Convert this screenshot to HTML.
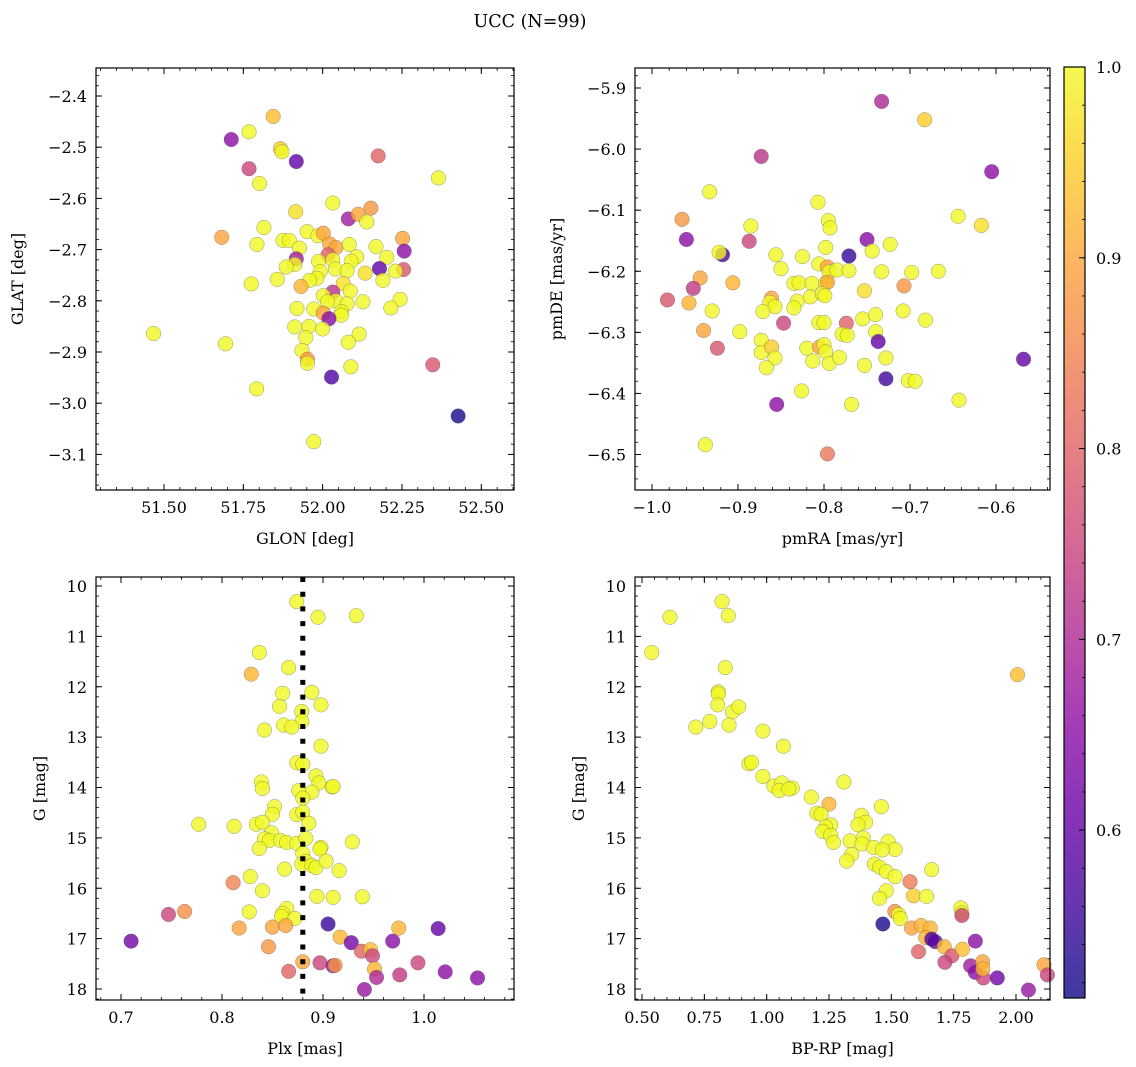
<!DOCTYPE html>
<html><head><meta charset="utf-8">
<style>
html,body{margin:0;padding:0;background:#fff;}
svg{display:block;font-family:"DejaVu Serif","Liberation Serif",serif;}
</style></head>
<body>
<svg id="fig" width="1136" height="1067" viewBox="0 0 1136 1067" xmlns="http://www.w3.org/2000/svg">
<defs>
<linearGradient id="cbgrad" x1="0" y1="1" x2="0" y2="0">
<stop offset="0" stop-color="#0d0887"/><stop offset="0.1" stop-color="#41049d"/><stop offset="0.2" stop-color="#6a00a8"/><stop offset="0.3" stop-color="#8f0da4"/><stop offset="0.4" stop-color="#b12a90"/><stop offset="0.5" stop-color="#cc4778"/><stop offset="0.6" stop-color="#e16462"/><stop offset="0.7" stop-color="#f2844b"/><stop offset="0.8" stop-color="#fca636"/><stop offset="0.9" stop-color="#fcce25"/><stop offset="1" stop-color="#f0f921"/>
</linearGradient>
</defs>
<text x="530" y="27" font-size="17.5" text-anchor="middle">UCC (N=99)</text>
</svg>
<script>
// ---- Panel 1: GLON / GLAT ----
const p1Lon=[51.844,51.712,51.768,51.867,51.872,51.917,51.768,52.175,52.365,51.801,52.032,51.915,52.081,52.112,52.152,52.139,51.682,51.815,51.793,51.875,51.895,51.927,51.951,51.985,52.002,52.022,52.042,52.084,52.168,52.252,52.257,51.917,51.912,51.885,52.017,51.987,52.032,52.107,52.090,52.202,52.179,52.255,52.229,52.134,52.190,52.040,52.077,51.992,51.982,51.959,51.857,51.775,51.932,52.065,52.087,52.032,52.002,52.042,52.015,52.077,52.127,52.244,52.215,51.919,51.972,52.002,52.059,52.059,52.020,51.912,51.957,52.000,51.947,52.115,52.081,51.935,51.952,51.952,52.089,51.467,51.694,52.347,52.028,51.792,52.427,51.972];
const p1Lat=[-2.440,-2.485,-2.470,-2.503,-2.509,-2.528,-2.542,-2.517,-2.560,-2.571,-2.609,-2.626,-2.640,-2.631,-2.619,-2.646,-2.676,-2.657,-2.690,-2.682,-2.682,-2.697,-2.665,-2.673,-2.668,-2.689,-2.696,-2.690,-2.694,-2.678,-2.703,-2.718,-2.729,-2.734,-2.710,-2.723,-2.720,-2.714,-2.723,-2.715,-2.737,-2.739,-2.742,-2.746,-2.760,-2.738,-2.741,-2.743,-2.756,-2.760,-2.758,-2.767,-2.772,-2.766,-2.781,-2.783,-2.790,-2.800,-2.802,-2.806,-2.802,-2.797,-2.814,-2.815,-2.816,-2.824,-2.821,-2.828,-2.835,-2.851,-2.850,-2.855,-2.872,-2.865,-2.881,-2.897,-2.914,-2.922,-2.929,-2.864,-2.884,-2.925,-2.949,-2.972,-3.025,-3.075];
const p1Prob=[0.93,0.65,1,0.95,1,0.6,0.75,0.8,1,1,1,0.97,0.68,0.9,0.88,1,0.9,1,1,1,1,1,1,1,0.9,0.9,0.9,1,1,0.9,0.65,0.68,1,1,0.8,1,1,1,1,1,0.6,0.78,1,0.97,1,1,1,1,1,1,1,1,0.92,0.97,1,0.72,1,1,1,1,1,1,1,1,1,0.9,1,1,0.65,1,1,1,1,1,1,1,0.88,1,1,1,1,0.78,0.58,1,0.52,1];
const p1XTicks=[51.5,51.75,52.0,52.25,52.5];
const p1XTickLabels=["51.50","51.75","52.00","52.25","52.50"];
const p1YTicks=[-2.4,-2.5,-2.6,-2.7,-2.8,-2.9,-3.0,-3.1];
const p1YTickLabels=["\u22122.4","\u22122.5","\u22122.6","\u22122.7","\u22122.8","\u22122.9","\u22123.0","\u22123.1"];

// ---- Panel 2: pmRA / pmDE ----
const p2Ra=[-0.733,-0.683,-0.873,-0.605,-0.933,-0.807,-0.965,-0.644,-0.617,-0.885,-0.795,-0.793,-0.960,-0.887,-0.750,-0.723,-0.798,-0.918,-0.922,-0.771,-0.856,-0.825,-0.744,-0.850,-0.806,-0.796,-0.794,-0.785,-0.771,-0.733,-0.698,-0.667,-0.944,-0.906,-0.952,-0.835,-0.829,-0.814,-0.798,-0.796,-0.707,-0.753,-0.982,-0.957,-0.861,-0.863,-0.857,-0.831,-0.816,-0.802,-0.799,-0.835,-0.871,-0.930,-0.708,-0.847,-0.774,-0.755,-0.740,-0.682,-0.806,-0.800,-0.940,-0.898,-0.779,-0.773,-0.740,-0.737,-0.924,-0.873,-0.873,-0.861,-0.857,-0.867,-0.820,-0.805,-0.800,-0.798,-0.813,-0.794,-0.782,-0.753,-0.728,-0.568,-0.728,-0.702,-0.694,-0.826,-0.855,-0.768,-0.643,-0.938,-0.796];
const p2De=[-5.922,-5.952,-6.012,-6.037,-6.070,-6.087,-6.115,-6.110,-6.125,-6.126,-6.117,-6.129,-6.148,-6.151,-6.148,-6.156,-6.161,-6.173,-6.169,-6.175,-6.173,-6.176,-6.167,-6.196,-6.188,-6.193,-6.201,-6.198,-6.199,-6.201,-6.202,-6.200,-6.211,-6.219,-6.228,-6.220,-6.219,-6.220,-6.219,-6.218,-6.224,-6.232,-6.247,-6.252,-6.244,-6.251,-6.258,-6.249,-6.242,-6.237,-6.240,-6.260,-6.266,-6.265,-6.265,-6.285,-6.285,-6.278,-6.271,-6.280,-6.284,-6.284,-6.297,-6.299,-6.303,-6.305,-6.299,-6.315,-6.326,-6.313,-6.333,-6.324,-6.342,-6.358,-6.326,-6.324,-6.320,-6.332,-6.347,-6.351,-6.341,-6.354,-6.342,-6.344,-6.376,-6.379,-6.380,-6.396,-6.418,-6.418,-6.411,-6.484,-6.499];
const p2Prob=[0.7,0.95,0.72,0.65,1,1,0.88,1,0.97,1,1,1,0.65,0.75,0.65,1,1,0.58,1,0.55,1,1,1,1,1,0.9,1,1,1,1,1,1,0.9,0.92,0.73,1,1,1,1,0.9,0.88,0.97,0.78,0.92,0.9,1,1,1,1,1,1,1,1,1,1,0.75,0.8,1,1,1,1,1,0.9,1,1,1,1,0.6,0.78,1,1,0.95,1,1,1,0.9,1,1,1,1,1,1,1,0.6,0.56,1,1,1,0.65,1,1,1,0.83];
const p2XTicks=[-1.0,-0.9,-0.8,-0.7,-0.6];
const p2XTickLabels=["\u22121.0","\u22120.9","\u22120.8","\u22120.7","\u22120.6"];
const p2YTicks=[-5.9,-6.0,-6.1,-6.2,-6.3,-6.4,-6.5];
const p2YTickLabels=["\u22125.9","\u22126.0","\u22126.1","\u22126.2","\u22126.3","\u22126.4","\u22126.5"];

// ---- Panel 3: Plx / G ----
const p3Plx=[0.874,0.895,0.933,0.837,0.866,0.829,0.860,0.889,0.857,0.898,0.879,0.879,0.861,0.869,0.842,0.898,0.874,0.880,0.893,0.896,0.839,0.840,0.909,0.910,0.889,0.876,0.880,0.852,0.850,0.874,0.880,0.886,0.777,0.812,0.834,0.840,0.849,0.842,0.847,0.858,0.864,0.874,0.883,0.929,0.898,0.897,0.837,0.880,0.883,0.879,0.889,0.893,0.903,0.916,0.862,0.828,0.811,0.840,0.894,0.910,0.939,0.747,0.763,0.827,0.864,0.860,0.859,0.872,0.710,0.817,0.850,0.863,0.846,0.905,0.917,0.928,0.938,0.947,0.949,0.951,0.953,0.969,0.975,0.976,1.014,0.994,1.021,1.053,0.941,0.880,0.897,0.910,0.912,0.866];
const p3G=[10.31,10.62,10.59,11.32,11.62,11.75,12.13,12.11,12.39,12.36,12.49,12.69,12.76,12.80,12.86,13.18,13.51,13.54,13.77,13.91,13.89,14.02,13.99,13.98,14.09,14.06,14.21,14.38,14.53,14.54,14.49,14.71,14.73,14.77,14.73,14.69,14.90,15.02,15.05,15.05,15.09,15.11,15.01,15.08,15.19,15.22,15.21,15.31,15.47,15.52,15.55,15.59,15.46,15.65,15.62,15.77,15.89,16.05,16.16,16.18,16.17,16.52,16.46,16.47,16.40,16.50,16.56,16.60,17.05,16.79,16.77,16.74,17.16,16.71,16.97,17.08,17.25,17.22,17.34,17.60,17.77,17.05,16.79,17.72,16.80,17.48,17.66,17.78,18.01,17.46,17.48,17.54,17.53,17.65];
const p3Prob=[1,1,1,1,1,0.92,1,1,1,1,1,1,1,1,1,1,1,1,1,1,1,1,1,1,1,1,1,1,1,1,1,1,1,1,1,1,1,1,1,1,1,1,1,1,1,1,1,1,1,1,1,1,1,1,1,1,0.85,1,1,1,1,0.75,0.87,1,1,1,1,1,0.62,0.9,0.9,0.9,0.88,0.55,0.92,0.62,0.8,0.93,0.75,0.92,0.7,0.65,0.92,0.73,0.6,0.75,0.65,0.65,0.67,0.9,0.75,0.65,0.88,0.8];
const p3PlxMean=[0.88];
const p3XTicks=[0.7,0.8,0.9,1.0];
const p3XTickLabels=["0.7","0.8","0.9","1.0"];
const gTicks=[10,11,12,13,14,15,16,17,18];
const gTickLabels=["10","11","12","13","14","15","16","17","18"];

// ---- Panel 4: BP-RP / G ----
const p4Col=[0.539,0.612,0.821,0.846,0.834,2.006,0.806,0.806,0.804,0.863,0.888,0.716,0.772,0.849,0.985,1.067,0.929,0.939,0.985,1.029,1.061,1.050,1.103,1.089,1.310,1.179,1.250,1.460,1.201,1.218,1.257,1.236,1.380,1.397,1.366,1.225,1.257,1.268,1.335,1.387,1.383,1.341,1.321,1.429,1.487,1.515,1.464,1.432,1.453,1.480,1.515,1.662,1.575,1.480,1.453,1.589,1.641,1.514,1.529,1.536,1.779,1.783,1.783,1.466,1.581,1.620,1.656,1.609,1.638,1.676,1.662,1.712,1.743,1.715,1.785,1.837,1.818,1.837,1.869,1.866,1.867,1.925,2.050,2.112,2.126];
const p4G=[11.32,10.62,10.31,10.59,11.62,11.76,12.10,12.14,12.36,12.50,12.40,12.80,12.69,12.76,12.88,13.18,13.53,13.50,13.78,13.97,13.91,14.06,14.01,14.03,13.89,14.19,14.33,14.38,14.51,14.53,14.74,14.78,14.55,14.69,14.74,14.87,14.95,15.09,15.06,15.00,15.12,15.33,15.46,15.19,15.07,15.23,15.24,15.52,15.58,15.67,15.77,15.63,15.87,16.05,16.20,16.15,16.16,16.46,16.52,16.60,16.39,16.49,16.54,16.71,16.79,16.74,16.79,17.26,16.98,17.06,17.01,17.16,17.34,17.47,17.21,17.05,17.54,17.67,17.78,17.46,17.60,17.78,18.02,17.52,17.72];
const p4Prob=[1,1,1,1,1,0.93,1,1,1,1,1,1,1,1,1,1,1,1,1,1,1,1,1,1,1,1,0.92,1,1,1,1,1,1,1,1,1,1,1,1,1,1,1,1,1,1,1,1,1,1,1,1,1,0.84,1,1,0.95,1,0.87,1,1,1,1,0.75,0.52,0.9,0.92,0.92,0.8,0.92,0.6,0.58,0.92,0.78,0.75,0.93,0.65,0.68,0.65,0.75,0.9,0.92,0.62,0.67,0.9,0.75];
const p4XTicks=[0.5,0.75,1.0,1.25,1.5,1.75,2.0];
const p4XTickLabels=["0.50","0.75","1.00","1.25","1.50","1.75","2.00"];

// ---- Colorbar ----
const cbTicks=[0.6,0.7,0.8,0.9,1.0];
const cbTickLabels=["0.6","0.7","0.8","0.9","1.0"];
const cbMin=0.512, cbMax=1.0;

const NS="http://www.w3.org/2000/svg";
const svg=document.getElementById('fig');
const FS=16;
function mk(tag,attrs,parent){const e=document.createElementNS(NS,tag);for(const k in attrs)e.setAttribute(k,attrs[k]);(parent||svg).appendChild(e);return e;}

const plasma=[[13,8,135],[65,4,157],[106,0,168],[143,13,164],[177,42,144],[204,71,120],[225,100,98],[242,132,75],[252,166,54],[252,206,37],[240,249,33]];
function cmap(v){let t=(v-cbMin)/(cbMax-cbMin);t=Math.max(0,Math.min(1,t));const f=t*10;const i=Math.min(9,Math.floor(f));const r=f-i;const a=plasma[i],b=plasma[i+1];return 'rgb('+[0,1,2].map(k=>Math.round(a[k]+(b[k]-a[k])*r)).join(',')+')';}

function linScale(d0,d1,r0,r1){return v=>r0+(v-d0)*(r1-r0)/(d1-d0);}

function drawAxes(cfg){
  const g=mk('g',{});
  
  
  const {L,R,T,B,sx,sy}=cfg;
  const xMin=Math.min(cfg.xd[0],cfg.xd[1]),xMax=Math.max(cfg.xd[0],cfg.xd[1]);
  const yMin=Math.min(cfg.yd[0],cfg.yd[1]),yMax=Math.max(cfg.yd[0],cfg.yd[1]);
  const eps=1e-9;
  for(let v=Math.ceil(xMin/cfg.xMinor-eps)*cfg.xMinor;v<=xMax+eps;v+=cfg.xMinor){const x=sx(v);mk('line',{x1:x,x2:x,y1:B,y2:B-3,stroke:'#000','stroke-width':0.8},g);mk('line',{x1:x,x2:x,y1:T,y2:T+3,stroke:'#000','stroke-width':0.8},g);}
  for(let v=Math.ceil(yMin/cfg.yMinor-eps)*cfg.yMinor;v<=yMax+eps;v+=cfg.yMinor){const y=sy(v);mk('line',{x1:L,x2:L+3,y1:y,y2:y,stroke:'#000','stroke-width':0.8},g);mk('line',{x1:R,x2:R-3,y1:y,y2:y,stroke:'#000','stroke-width':0.8},g);}
  cfg.xTicks.forEach((v,i)=>{const x=sx(v);mk('line',{x1:x,x2:x,y1:B,y2:B-6,stroke:'#000','stroke-width':1},g);mk('line',{x1:x,x2:x,y1:T,y2:T+6,stroke:'#000','stroke-width':1},g);
    const t=mk('text',{x:x,y:B+23,'font-size':FS,'text-anchor':'middle'},g);t.textContent=cfg.xLabels[i];
    
    });
  cfg.yTicks.forEach((v,i)=>{const y=sy(v);mk('line',{x1:L,x2:L+6,y1:y,y2:y,stroke:'#000','stroke-width':1},g);mk('line',{x1:R,x2:R-6,y1:y,y2:y,stroke:'#000','stroke-width':1},g);
    const t=mk('text',{x:L-9,y:y+6,'font-size':FS,'text-anchor':'end'},g);t.textContent=cfg.yLabels[i];
    
    });
  const xt=mk('text',{x:(L+R)/2,y:B+54,'font-size':FS,'text-anchor':'middle'},g);xt.textContent=cfg.xTitle;
  
  
  const yx=cfg.yTitleX;const yy=(T+B)/2;
  const yt=mk('text',{x:yx,y:yy,'font-size':FS,'text-anchor':'middle',transform:'rotate(-90 '+yx+' '+yy+')'},g);yt.textContent=cfg.yTitle;
  
  
  return g;
}
function drawPoints(g,xs,ys,ps,sx,sy){
  const pg=mk('g',{},g);
  
  
  for(let i=0;i<xs.length;i++){
    const c=mk('circle',{cx:sx(xs[i]),cy:sy(ys[i]),r:7.3,fill:cmap(ps[i]),'fill-opacity':0.8,stroke:'#555','stroke-opacity':0.6,'stroke-width':0.5},pg);
    
    
  }
}
function frame(g,L,R,T,B){const f=mk('rect',{x:L,y:T,width:R-L,height:B-T,fill:'none',stroke:'#000','stroke-width':1.2},g);
  
  }

// Panel 1
(function(){const L=96,R=514,T=68,B=490;
 const sx=linScale(51.5,52.5,164,481.3), sy=linScale(-2.4,-3.1,96,454.4);
 const g=drawAxes({name:'glon-glat-panel',L,R,T,B,sx,sy,xd:[51.284,52.602],yd:[-2.345,-3.172],xMinor:0.05,yMinor:0.02,xTicks:p1XTicks,xLabels:p1XTickLabels,yTicks:p1YTicks,yLabels:p1YTickLabels,xTitle:'GLON [deg]',yTitle:'GLAT [deg]',yTitleX:23});
 drawPoints(g,p1Lon,p1Lat,p1Prob,sx,sy);frame(g,L,R,T,B);})();
// Panel 2
(function(){const L=635,R=1050,T=68,B=490;
 const sx=linScale(-1.0,-0.6,652,996), sy=linScale(-5.9,-6.5,88,454.5);
 const g=drawAxes({name:'pm-panel',L,R,T,B,sx,sy,xd:[-1.0198,-0.537],yd:[-5.867,-6.558],xMinor:0.02,yMinor:0.02,xTicks:p2XTicks,xLabels:p2XTickLabels,yTicks:p2YTicks,yLabels:p2YTickLabels,xTitle:'pmRA [mas/yr]',yTitle:'pmDE [mas/yr]',yTitleX:562});
 drawPoints(g,p2Ra,p2De,p2Prob,sx,sy);frame(g,L,R,T,B);})();
// Panel 3
(function(){const L=96,R=514,T=577,B=1000;
 const sx=linScale(0.7,1.0,121,424), sy=linScale(10,18,586,989);
 const g=drawAxes({name:'plx-g-panel',L,R,T,B,sx,sy,xd:[0.675,1.089],yd:[9.82,18.21],xMinor:0.02,yMinor:0.2,xTicks:p3XTicks,xLabels:p3XTickLabels,yTicks:gTicks,yLabels:gTickLabels,xTitle:'Plx [mas]',yTitle:'G [mag]',yTitleX:45});
 drawPoints(g,p3Plx,p3G,p3Prob,sx,sy);
 const x=sx(p3PlxMean[0]);
 const ln=mk('line',{x1:x,x2:x,y1:T,y2:B,stroke:'#000','stroke-width':5,'stroke-dasharray':'5 9.7'},g);
 
 
 frame(g,L,R,T,B);})();
// Panel 4
(function(){const L=635,R=1050,T=577,B=1000;
 const sx=linScale(0.5,2.0,642,1016), sy=linScale(10,18,586,989);
 const g=drawAxes({name:'cmd-panel',L,R,T,B,sx,sy,xd:[0.472,2.139],yd:[9.82,18.21],xMinor:0.05,yMinor:0.2,xTicks:p4XTicks,xLabels:p4XTickLabels,yTicks:gTicks,yLabels:gTickLabels,xTitle:'BP-RP [mag]',yTitle:'G [mag]',yTitleX:584});
 drawPoints(g,p4Col,p4G,p4Prob,sx,sy);frame(g,L,R,T,B);})();
// Colorbar
(function(){const L=1064,R=1085,T=67,B=998;
 const g=mk('g',{});
 
 
 const sy=linScale(cbMin,cbMax,B,T);
 mk('rect',{x:L,y:T,width:R-L,height:B-T,fill:'url(#cbgrad)','fill-opacity':0.8},g);
 for(let v=0.52;v<=1.0001;v+=0.02){const y=sy(v);mk('line',{x1:R,x2:R-3,y1:y,y2:y,stroke:'#000','stroke-width':0.8},g);}
 cbTicks.forEach((v,i)=>{const y=sy(v);mk('line',{x1:R,x2:R-6,y1:y,y2:y,stroke:'#000','stroke-width':1},g);
   const t=mk('text',{x:R+11,y:y+6,'font-size':FS},g);t.textContent=cbTickLabels[i];
   
   });
 mk('rect',{x:L,y:T,width:R-L,height:B-T,fill:'none',stroke:'#000','stroke-width':1.2},g);
})();
</script>
</body></html>
